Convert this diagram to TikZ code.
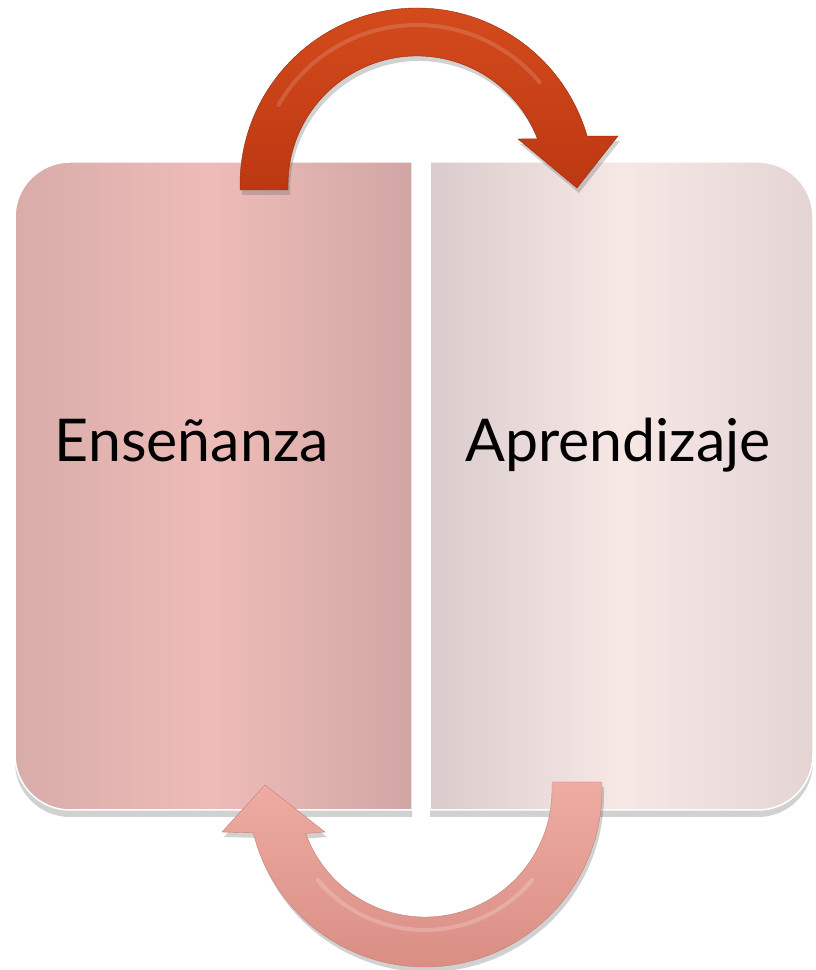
\documentclass[tikz,border=0pt]{standalone}
\usepackage{fontspec}
\setmainfont{Lato}
\usetikzlibrary{shadows,calc}
\definecolor{lpL}{RGB}{216,172,169}
\definecolor{lpM}{RGB}{238,188,184}
\definecolor{lpR}{RGB}{208,166,164}
\definecolor{rpL}{RGB}{218,204,204}
\definecolor{rpM}{RGB}{247,232,230}
\definecolor{rpR}{RGB}{228,212,212}
\definecolor{topA}{RGB}{212,74,28}
\definecolor{topB}{RGB}{188,56,18}
\definecolor{botA}{RGB}{238,172,162}
\definecolor{botB}{RGB}{218,142,132}
\tikzset{
  panelshadow/.style={drop shadow={shadow xshift=0pt,shadow yshift=-7pt,opacity=0.3,fill=black!60}},
  arrowshadow/.style={drop shadow={shadow xshift=2pt,shadow yshift=-5pt,opacity=0.3,fill=black!60}},
  leftpanel/.style={panelshadow,left color=lpL,right color=lpR,middle color=lpM,draw=white,line width=1.5pt},
  rightpanel/.style={panelshadow,left color=rpL,right color=rpR,middle color=rpM,draw=white,line width=1.5pt},
  toparrow/.style={arrowshadow,top color=topA,bottom color=topB,draw=topB!80!black,line width=0.4pt},
  botarrow/.style={arrowshadow,top color=botA,bottom color=botB,draw=botB!90!black,line width=0.4pt},
  label/.style={font=\fontsize{59}{70}\selectfont,text=black,anchor=base,inner sep=0pt}
}
\begin{document}
\begin{tikzpicture}[x=1pt,y=1pt]
\useasboundingbox (0,0) rectangle (815,970);
% panels
\path[leftpanel] (412,160) -- (70,160) arc (270:180:55) -- (15,753) arc (180:90:55) -- (412,808) -- cycle;
\path[rightpanel] (430,160) -- (758,160) arc (-90:0:55) -- (813,753) arc (0:90:55) -- (430,808) -- cycle;
% labels
\node[label] (ens) at (192,508) {Enseñanza};
\node[label] (apr) at (618,508) {Aprendizaje};
% top arrow (from Enseñanza to Aprendizaje)
\coordinate (c1) at (417,785);
\path[toparrow] (240,780) -- (240,785) arc (180:16:177) -- (618,834) -- (577,782) -- (518,831)
   -- ($(c1)+(21:129)$) arc (21:180:129) -- (288,780) -- cycle;
\draw[white,opacity=0.15,line width=4pt,line cap=round] ($(c1)+(150:160)$) arc (150:40:160);
% bottom arrow (from Aprendizaje to Enseñanza)
\coordinate (c2) at (425,180);
\path[botarrow] (602,188) -- (602,180) arc (0:-166:177) -- (222,138) -- (265,185) -- (325,138)
   -- ($(c2)+(-160:127)$) arc (-160:0:127) -- (552,188) -- cycle;
\draw[white,opacity=0.2,line width=4pt,line cap=round] ($(c2)+(-140:140)$) arc (-140:-40:140);
\end{tikzpicture}
\end{document}
